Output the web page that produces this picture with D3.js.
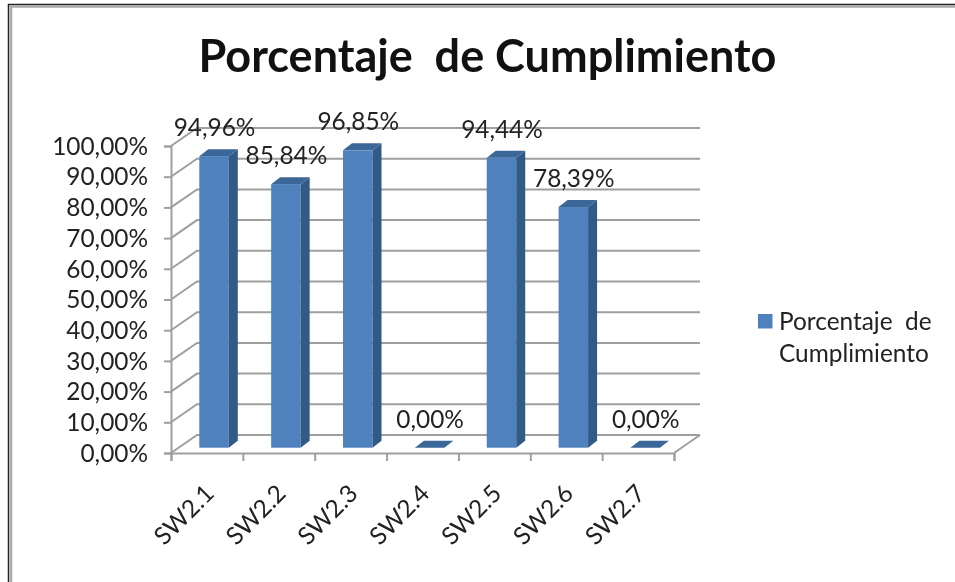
<!DOCTYPE html>
<html>
<head>
<meta charset="utf-8">
<script src="https://cdn.jsdelivr.net/npm/d3@7/dist/d3.min.js"></script>
<style>
html, body { margin: 0; padding: 0; background: #fff; }
svg { display: block; filter: blur(0.45px); }
text { font-family: Lato, "Open Sans", sans-serif; fill: #222; }
</style>
</head>
<body>
<script>
// chart values
var categories = ['SW2.1', 'SW2.2', 'SW2.3', 'SW2.4', 'SW2.5', 'SW2.6', 'SW2.7'];
var values = [94.96, 85.84, 96.85, 0, 94.44, 78.39, 0];
var tickValues = [0, 10, 20, 30, 40, 50, 60, 70, 80, 90, 100];
var titleText = 'Porcentaje  de Cumplimiento';
var legendLines = ['Porcentaje  de', 'Cumplimiento'];

var width = 955,
	height = 582;

// depth of the fake 3d box and of the bars
var wallDx = 26, wallDy = -18;
var barDx = 9, barDy = -7;
var floorShift = -5.3;
var gridColor = '#9f9f9f';
var labelSize = '24.4px';

var svg = d3.select('body').append('svg')
	.attr('width', width)
	.attr('height', height);

// outer frame, only top and left show in the picture
svg.append('path').attr('d', 'M8.5,582V4.5H955').attr('fill', 'none').attr('stroke', '#222').attr('stroke-width', 1.5);
svg.append('path').attr('d', 'M11,582V6.5H955').attr('fill', 'none').attr('stroke', '#aaa').attr('stroke-width', 2.5);

svg.append('text')
	.attr('x', 487.5)
	.attr('y', 72)
	.attr('text-anchor', 'middle')
	.style('font-size', '45px')
	.style('font-weight', 700)
	.style('fill', '#111')
	.style('white-space', 'pre')
	.text(titleText);

var x = d3.scaleBand().domain(categories).range([171, 674]);
var y = d3.scaleLinear().domain([0, 100]).range([453, 146]);

// back wall gridlines with the diagonal on the side wall
svg.selectAll('.grid')
	.data(tickValues)
	.enter().append('path').classed('grid', true)
	.attr('d', function(d) {
		var x0 = x.range()[0];
		return 'M' + x0 + ',' + y(d) + 'L' + (x0 + wallDx) + ',' + (y(d) + wallDy) + 'H' + (x.range()[1] + wallDx);
	})
	.attr('fill', 'none')
	.attr('stroke', gridColor)
	.attr('stroke-width', 2);

// right edge of the floor
svg.append('path')
	.attr('d', 'M' + x.range()[1] + ',' + y(0) + 'l' + wallDx + ',' + wallDy)
	.attr('fill', 'none')
	.attr('stroke', gridColor)
	.attr('stroke-width', 2);

var percent = d3.formatLocale({ decimal: ',', thousands: '.', grouping: [3], currency: ['', ''] }).format('.2f');

var yAxis = svg.append('g')
	.attr('transform', 'translate(171,0)')
	.call(d3.axisLeft(y).tickValues(tickValues).tickSize(7).tickPadding(16).tickFormat(function(d) { return percent(d) + '%'; }));

var xEdges = d3.axisBottom(d3.scaleLinear().domain([0, categories.length]).range(x.range()))
	.ticks(categories.length).tickSize(8).tickFormat('');
svg.append('g')
	.attr('transform', 'translate(0,453)')
	.call(xEdges);

svg.selectAll('.domain, .tick line')
	.attr('stroke', gridColor)
	.attr('stroke-width', 2);

yAxis.selectAll('text').style('font-size', labelSize).attr('dy', '0.34em');

// category labels at 45 degrees
svg.selectAll('.cat')
	.data(categories)
	.enter().append('text').classed('cat', true)
	.attr('transform', function(d) {
		return 'translate(' + (x(d) + x.bandwidth() / 2 - 3.5) + ',483) rotate(-45)';
	})
	.attr('text-anchor', 'end')
	.attr('dy', '0.7em')
	.style('font-size', labelSize)
	.text(function(d) { return d; });

// bars: front, side, top
var barW = 29.5, barOff = 28.3;
var bars = svg.selectAll('.bar')
	.data(categories.map(function(c, i) { return { cat: c, v: values[i] }; }))
	.enter().append('g').classed('bar', true)
	.attr('transform', function(d) { return 'translate(' + (x(d.cat) + barOff) + ',' + floorShift + ')'; });

bars.filter(function(d) { return d.v > 0; }).append('rect')
	.attr('y', function(d) { return y(d.v); })
	.attr('width', barW)
	.attr('height', function(d) { return y(0) - y(d.v); })
	.attr('fill', '#4f81bd');

bars.filter(function(d) { return d.v > 0; }).append('path')
	.attr('d', function(d) {
		return 'M' + barW + ',' + y(d.v) + 'l' + barDx + ',' + barDy + 'V' + (y(0) + barDy) + 'l' + (-barDx) + ',' + (-barDy) + 'Z';
	})
	.attr('fill', '#325a87');

bars.append('path')
	.attr('d', function(d) {
		return 'M0,' + y(d.v) + 'l' + barDx + ',' + barDy + 'h' + barW + 'l' + (-barDx) + ',' + (-barDy) + 'Z';
	})
	.attr('fill', '#3b6698');

// value labels
bars.append('text')
	.attr('x', barW / 2 + 0.5)
	.attr('y', function(d) { return y(d.v) - 20; })
	.attr('text-anchor', 'middle')
	.style('font-size', labelSize)
	.text(function(d) { return percent(d.v) + '%'; });

// legend
svg.append('rect')
	.attr('x', 758).attr('y', 314)
	.attr('width', 14.5).attr('height', 14.5)
	.attr('fill', '#4f81bd');

svg.selectAll('.leg')
	.data(legendLines)
	.enter().append('text').classed('leg', true)
	.attr('x', 779)
	.attr('y', function(d, i) { return 330 + i * 32; })
	.style('font-size', labelSize)
	.style('white-space', 'pre')
	.text(function(d) { return d; });
</script>
</body>
</html>
